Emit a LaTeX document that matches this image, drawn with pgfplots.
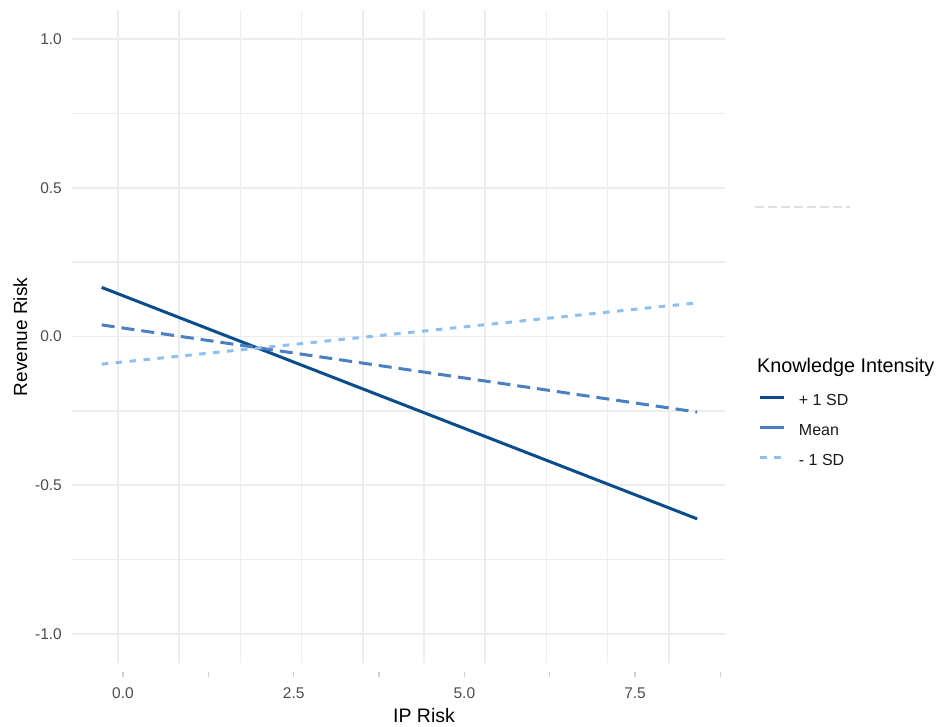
\documentclass[border=0pt]{standalone}
\usepackage{pgfplots}
\pgfplotsset{compat=1.18}
\usepackage{fontspec}
\setmainfont{Liberation Sans}
\definecolor{cHi}{HTML}{0B4C8C}
\definecolor{cMean}{HTML}{4A7FC1}
\definecolor{cLo}{HTML}{8DC0EE}
\definecolor{gridc}{HTML}{EDEDED}
\definecolor{tickc}{HTML}{4D4D4D}
\definecolor{tickm}{HTML}{D0D0D0}
\begin{document}
\begin{tikzpicture}
\useasboundingbox (0,0) rectangle (936bp,727bp);
\begin{axis}[
  at={(72bp,64bp)}, anchor=south west,
  width=653bp, height=653bp, scale only axis,
  xmin=-0.747, xmax=8.818, ymin=-1.0975, ymax=1.0975,
  xtick={-0.0732,0.8232,1.7196,2.6160,3.5124,4.4088,5.3052,6.2016,7.0980,7.9944},
  xticklabels={},
  ytick={-1,-0.5,0,0.5,1},
  yticklabels={-1.0,-0.5,0.0,0.5,1.0},
  minor ytick={-0.75,-0.25,0.25,0.75},
  grid=both,
  major grid style={gridc, line width=1.6bp},
  minor grid style={gridc, line width=1.6bp},
  axis line style={draw=none},
  major tick length=0pt, minor tick length=0pt,
  yticklabel style={font=\fontsize{15.5bp}{18bp}\selectfont, text=tickc, anchor=east, inner sep=0pt, xshift=-10bp},
  legend style={at={(1.052,0.4127)}, anchor=north west, draw=none, fill=none,
    inner sep=0pt, outer sep=0pt, row sep=15bp, column sep=13bp,
    font=\fontsize{16bp}{18bp}\selectfont, text=black!90,
    nodes={inner sep=0pt, text height=11.5bp, text depth=3.5bp}},
  legend cell align=left,
  legend image code/.code={\draw[#1] (0bp,4bp) -- (24bp,4bp);},
]
\addplot[cHi, line width=3bp] coordinates {(-0.312,0.165) (8.41,-0.613)};
\addlegendentry{+ 1 SD}
\addplot[cMean, line width=3bp, dash pattern=on 13bp off 7bp,
  legend image post style={dash pattern=on 24bp off 2bp}] coordinates {(-0.312,0.039) (8.41,-0.254)};
\addlegendentry{Mean}
\addplot[cLo, line width=3bp, dash pattern=on 6.5bp off 7.5bp] coordinates {(-0.312,-0.093) (8.41,0.113)};
\addlegendentry{- 1 SD}
\end{axis}
\begin{axis}[
  at={(72bp,55bp)}, anchor=south west,
  width=653bp, height=100bp, scale only axis,
  xmin=-0.747, xmax=8.818, ymin=0, ymax=1,
  axis x line=bottom, axis y line=none,
  axis line style={draw=none,-},
  xtick={0,2.5,5,7.5}, xticklabels={0.0,2.5,5.0,7.5},
  minor xtick={1.25,3.75,6.25,8.75},
  ytick=\empty,
  tick align=outside, major tick length=5bp, minor tick length=5bp,
  tick style={tickm, line width=1.2bp},
  xticklabel style={font=\fontsize{15.5bp}{18bp}\selectfont, text=tickc, inner sep=0pt, anchor=north, yshift=-10.5bp},
]
\end{axis}
\draw[black!12, line width=1.2bp, dash pattern=on 9bp off 4bp] (755bp,520bp) -- (850bp,520bp);
\node[font=\fontsize{19.5bp}{22bp}\selectfont, anchor=base, inner sep=0pt] at (424bp,5bp) {IP Risk};
\node[font=\fontsize{19bp}{22bp}\selectfont, anchor=base, rotate=90, inner sep=0pt] at (27bp,390bp) {Revenue Risk};
\node[font=\fontsize{19.8bp}{22bp}\selectfont, anchor=base west, inner sep=0pt] at (757bp,354bp) {Knowledge Intensity};
\end{tikzpicture}
\end{document}
